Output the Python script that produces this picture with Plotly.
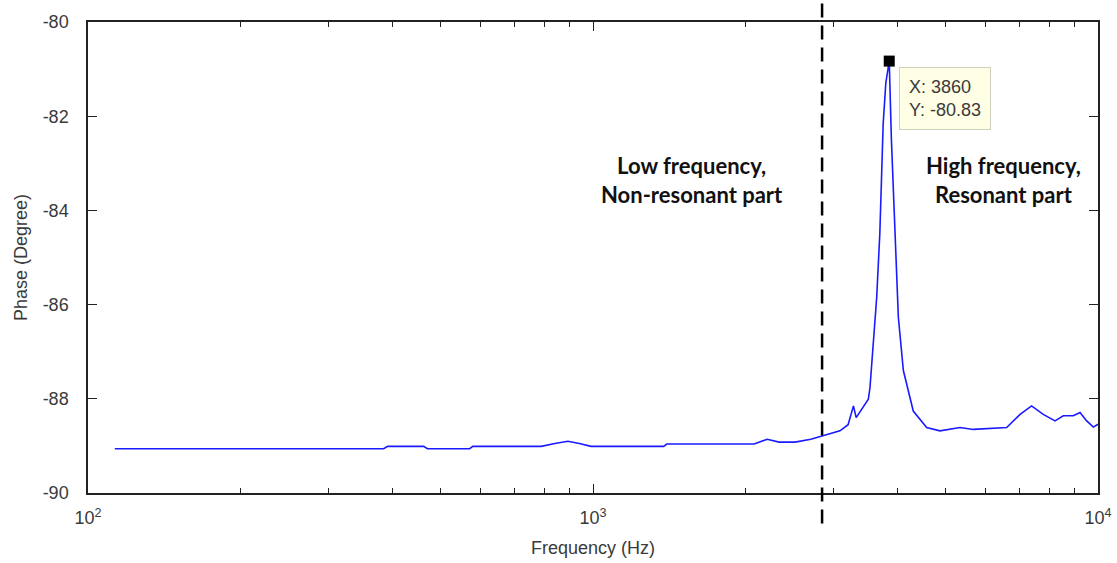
import math
import plotly.graph_objects as go

freq = [113, 385, 392, 462, 470, 570, 578, 790, 840, 892, 940, 991, 1380, 1400,
        2085, 2213, 2336, 2512, 2700, 2842, 3083, 3200, 3279, 3320, 3420, 3509,
        3536, 3590, 3646, 3698, 3755, 3800, 3860, 3899, 3963, 4024, 4117, 4307,
        4578, 4863, 5330, 5666, 6594, 7010, 7387, 7792, 8220, 8537, 8935, 9213,
        9497, 9790, 10000]
phase = [-89.06, -89.06, -89.01, -89.01, -89.06, -89.06, -89.01, -89.01, -88.95,
         -88.90, -88.95, -89.01, -89.01, -88.96, -88.96, -88.86, -88.92, -88.92,
         -88.86, -88.79, -88.68, -88.55, -88.15, -88.40, -88.20, -88.01, -87.76,
         -86.77, -85.84, -84.49, -82.16, -81.30, -80.83, -82.51, -84.64, -86.27,
         -87.40, -88.26, -88.61, -88.68, -88.61, -88.65, -88.61, -88.33, -88.15,
         -88.33, -88.47, -88.36, -88.36, -88.29, -88.47, -88.60, -88.54]

tip_x = 3860
tip_y = -80.83
split_freq = 2842

x_tickvals = [100, 1000, 10000]
x_ticktext = ["10<sup>2</sup>", "10<sup>3</sup>", "10<sup>4</sup>"]
x_minor = [m * d for d in (100, 1000) for m in range(2, 10)]
y_tickvals = [-90, -88, -86, -84, -82, -80]
y_ticktext = ["-90", "-88", "-86", "-84", "-82", "-80"]

fig = go.Figure()
fig.add_trace(go.Scatter(x=freq, y=phase, mode="lines",
                         line=dict(color="#1a1aff", width=1.6),
                         showlegend=False, hoverinfo="skip"))
fig.add_trace(go.Scatter(x=[tip_x], y=[tip_y], mode="markers",
                         marker=dict(symbol="square", size=11, color="black"),
                         showlegend=False, hoverinfo="skip"))

fig.add_shape(type="line", xref="x", yref="paper", x0=split_freq, x1=split_freq,
              y0=-0.065, y1=1.04, line=dict(color="black", width=2.5, dash="14px,8px"))

font_tick = dict(family="Liberation Sans, Arial", size=18, color="#3a3a3a")
font_note = dict(family="Lato, Open Sans", size=22, color="#111111")

fig.add_annotation(x=math.log10(1571), y=-83.36, xref="x", yref="y",
                   text="<b>Low frequency,<br>Non-resonant part</b>", showarrow=False,
                   font=font_note, align="center")
fig.add_annotation(x=math.log10(6486), y=-83.36, xref="x", yref="y",
                   text="<b>High frequency,<br>Resonant part</b>", showarrow=False,
                   font=font_note, align="center")
fig.add_annotation(x=0.803, y=0.904, xref="paper", yref="paper", xanchor="left",
                   yanchor="top", showarrow=False, align="left",
                   text=f"X: {tip_x}<br>Y: {tip_y}",
                   font=dict(family="Liberation Sans, Arial", size=18, color="#3a3a3a"),
                   bgcolor="#ffffe6", bordercolor="#d0d0c0", borderwidth=1, borderpad=9)

fig.update_layout(
    width=1117, height=563,
    margin=dict(l=88, r=19, t=22, b=70),
    paper_bgcolor="white", plot_bgcolor="white",
    xaxis=dict(type="log", range=[2, 4], tickvals=x_tickvals, ticktext=x_ticktext,
               ticks="inside", ticklen=9, tickcolor="#222", tickwidth=1,
               showline=True, linecolor="#222", linewidth=1.5, mirror="ticks",
               showgrid=False, zeroline=False, tickfont=font_tick, ticklabelstandoff=8,
               automargin=False,
               minor=dict(tickvals=x_minor, ticks="inside", ticklen=5,
                          tickcolor="#222", showgrid=False),
               title=dict(text="Frequency (Hz)", font=font_tick, standoff=14)),
    yaxis=dict(range=[-90, -80], tickvals=y_tickvals, ticktext=y_ticktext,
               ticks="inside", ticklen=9, tickcolor="#222", tickwidth=1,
               showline=True, linecolor="#222", linewidth=1.5, mirror="ticks",
               showgrid=False, zeroline=False, tickfont=font_tick, ticklabelstandoff=14,
               automargin=False,
               title=dict(text="Phase (Degree)", font=font_tick, standoff=10)),
)

fig.write_html("out.html")
